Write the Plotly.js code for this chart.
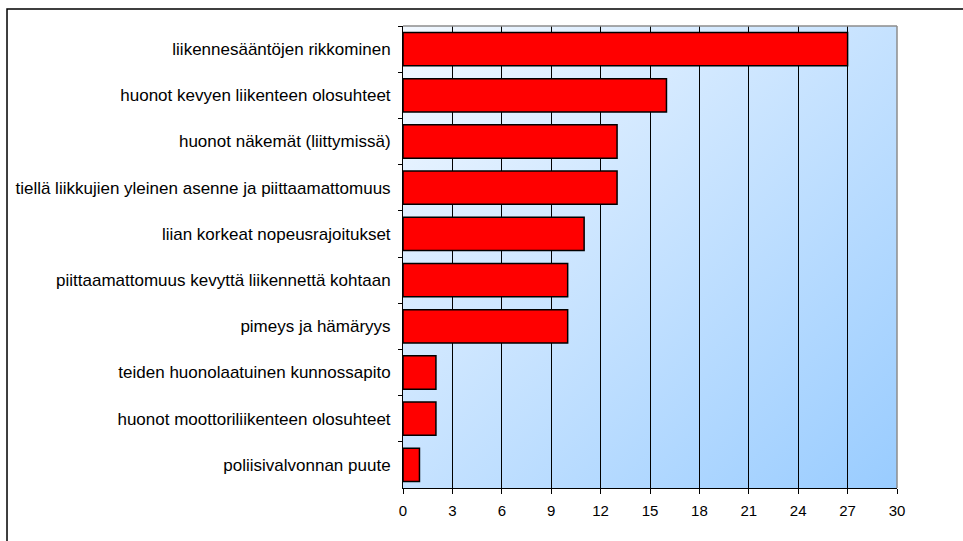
<!DOCTYPE html>
<html>
<head>
<meta charset="utf-8">
<script src="https://cdn.plot.ly/plotly-3.0.1.min.js"></script>
<style>html,body{margin:0;padding:0;background:#fff;}#chart{width:963px;height:541px;}</style>
</head>
<body>
<div id="chart"></div>
<script>
const categories = [
  "liikennesääntöjen rikkominen",
  "huonot kevyen liikenteen olosuhteet",
  "huonot näkemät (liittymissä)",
  "tiellä liikkujien yleinen asenne ja piittaamattomuus",
  "liian korkeat nopeusrajoitukset",
  "piittaamattomuus kevyttä liikennettä kohtaan",
  "pimeys ja hämäryys",
  "teiden huonolaatuinen kunnossapito",
  "huonot moottoriliikenteen olosuhteet",
  "poliisivalvonnan puute"
];
const values = [27, 16, 13, 13, 11, 10, 10, 2, 2, 1];
const xTicks = [0, 3, 6, 9, 12, 15, 18, 21, 24, 27, 30];

const gradSvg = '<svg xmlns="http://www.w3.org/2000/svg" width="494" height="462" preserveAspectRatio="none">' +
  '<defs><linearGradient id="g" x1="0" y1="0" x2="1" y2="1">' +
  '<stop offset="0" stop-color="#F2F8FF"/><stop offset="1" stop-color="#99CCFF"/>' +
  '</linearGradient></defs><rect width="494" height="462" fill="url(#g)"/></svg>';
const gradUri = 'data:image/svg+xml;base64,' + btoa(gradSvg);

const trace = {
  type: 'bar',
  orientation: 'h',
  x: values,
  y: categories,
  marker: {color: '#FF0000', line: {color: '#000000', width: 1.5}},
  hoverinfo: 'x+y'
};

const layout = {
  width: 963, height: 541,
  margin: {l: 403, r: 66, t: 26, b: 53, pad: 0},
  paper_bgcolor: '#FFFFFF',
  plot_bgcolor: 'rgba(0,0,0,0)',
  font: {family: '"Liberation Sans", Arial, sans-serif', size: 15, color: '#000'},
  bargap: 0.28,
  showlegend: false,
  xaxis: {
    range: [0, 30],
    tickvals: xTicks,
    ticktext: xTicks.map(String),
    showgrid: true, gridcolor: '#000000', gridwidth: 1,
    zeroline: false,
    showline: true, linecolor: '#000000', linewidth: 1,
    ticks: 'outside', ticklen: 5, tickcolor: '#000000', tickwidth: 1,
    ticklabelstandoff: 4,
    tickfont: {size: 15, color: '#000'}
  },
  yaxis: {
    type: 'category',
    autorange: 'reversed',
    tickson: 'boundaries',
    showgrid: false,
    zeroline: false,
    showline: true, linecolor: '#000000', linewidth: 1,
    ticks: 'outside', ticklen: 4, tickcolor: '#000000', tickwidth: 1,
    ticklabelstandoff: 8,
    tickfont: {size: 17, color: '#000'}
  },
  images: [{
    source: gradUri,
    xref: 'paper', yref: 'paper',
    x: 0, y: 1, sizex: 1, sizey: 1,
    xanchor: 'left', yanchor: 'top',
    sizing: 'stretch', layer: 'below'
  }],
  shapes: [
    {type: 'line', xref: 'paper', yref: 'paper', x0: 0, x1: 1, y0: 1, y1: 1, line: {color: '#8C8C8C', width: 1.5}},
    {type: 'line', xref: 'paper', yref: 'paper', x0: 1, x1: 1, y0: 0, y1: 1, line: {color: '#8C8C8C', width: 1.5}},
    {type: 'rect', xref: 'paper', yref: 'paper', x0: -0.8016, x1: 1.3, y0: -0.3, y1: 1.0368, line: {color: '#000000', width: 1.5}, fillcolor: 'rgba(0,0,0,0)'}
  ]
};

Plotly.newPlot('chart', [trace], layout, {displayModeBar: false, staticPlot: true});
</script>
</body>
</html>
